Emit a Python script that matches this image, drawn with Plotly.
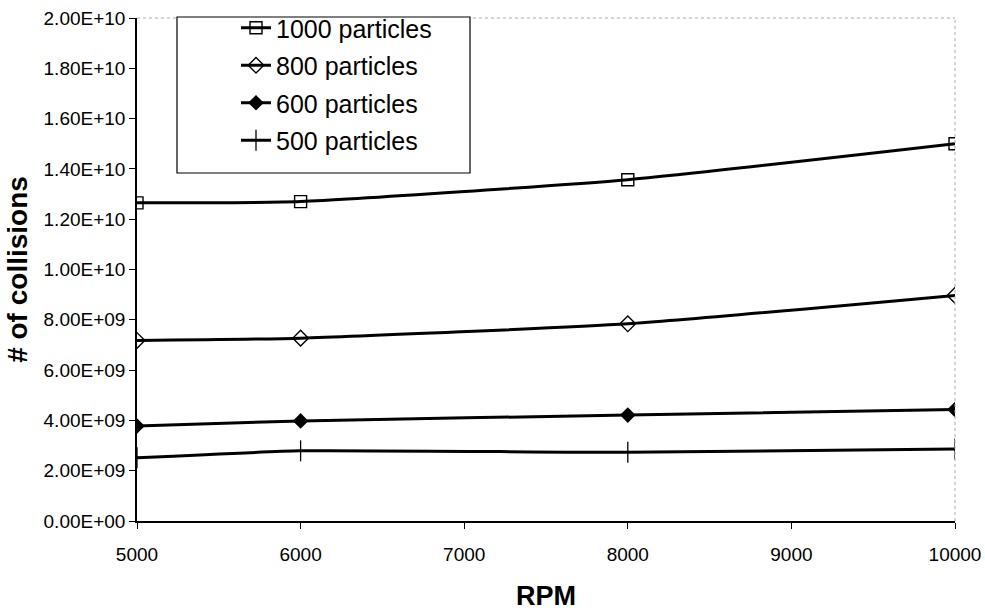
import plotly.graph_objects as go

rpm = [5000, 6000, 8000, 10000]
series_names = ["1000 particles", "800 particles", "600 particles", "500 particles"]
p1000 = [1.265e10, 1.27e10, 1.357e10, 1.50e10]
p800 = [7.18e9, 7.27e9, 7.84e9, 8.97e9]
p600 = [3.78e9, 3.98e9, 4.21e9, 4.43e9]
p500 = [2.51e9, 2.79e9, 2.73e9, 2.86e9]

y_tickvals = [0, 2e9, 4e9, 6e9, 8e9, 1e10, 1.2e10, 1.4e10, 1.6e10, 1.8e10, 2e10]
y_ticktext = ["0.00E+00", "2.00E+09", "4.00E+09", "6.00E+09", "8.00E+09", "1.00E+10",
              "1.20E+10", "1.40E+10", "1.60E+10", "1.80E+10", "2.00E+10"]
x_tickvals = [5000, 6000, 7000, 8000, 9000, 10000]
x_ticktext = ["5000", "6000", "7000", "8000", "9000", "10000"]

markers = [
    dict(symbol="square-open", size=12, color="black", line=dict(width=1.4, color="black")),
    dict(symbol="diamond-open", size=12, color="black", line=dict(width=1.4, color="black")),
    dict(symbol="diamond", size=12, color="black"),
    dict(symbol="line-ns-open", size=15, color="black", line=dict(width=1.3, color="black")),
]

fig = go.Figure()
for i, (name, vals, mk) in enumerate(zip(series_names, [p1000, p800, p600, p500], markers)):
    fig.add_trace(go.Scatter(
        x=rpm, y=vals, name=name, mode="lines+markers", legendgroup=f"g{i}",
        line=dict(color="black", width=3, shape="spline", smoothing=0.5),
        marker=mk,
    ))

# plot-area pixel geometry (for placing the legend box)
L, R, T, B = 137, 955, 18, 521
W, H = R - L, B - T
def px(xp):
    return (xp - L) / W
def py(yp):
    return (B - yp) / H

fig.add_shape(type="line", xref="paper", yref="paper", x0=0, x1=1, y0=1, y1=1,
              line=dict(color="#aaaaaa", width=1, dash="dot"))
fig.add_shape(type="line", xref="paper", yref="paper", x0=1, x1=1, y0=0, y1=1,
              line=dict(color="#aaaaaa", width=1, dash="dot"))
fig.add_shape(type="rect", xref="paper", yref="paper",
              x0=px(177), x1=px(470), y0=py(173), y1=py(17),
              line=dict(color="black", width=1.2), fillcolor="white", layer="above")

fig.update_layout(
    width=985, height=611,
    margin=dict(l=L, r=985 - R, t=T, b=611 - B, autoexpand=False),
    paper_bgcolor="white", plot_bgcolor="white",
    font=dict(family="Liberation Sans, Arial, sans-serif", color="black", size=19),
    showlegend=True,
    legend=dict(
        x=px(236), y=py(5), xanchor="left", yanchor="top",
        bgcolor="rgba(0,0,0,0)", borderwidth=0,
        font=dict(size=25, color="black"),
        tracegroupgap=2,
    ),
    xaxis=dict(
        range=[5000, 10000], tickvals=x_tickvals, ticktext=x_ticktext,
        ticks="outside", ticklen=6, ticklabelstandoff=9, automargin=False,
        tickcolor="black", showline=True, linecolor="black", linewidth=1.5,
        showgrid=False, zeroline=False,
        tickfont=dict(size=19),
        title=dict(text="<b>RPM</b>", font=dict(size=27), standoff=24),
    ),
    yaxis=dict(
        range=[0, 2e10], tickvals=y_tickvals, ticktext=y_ticktext, ticks="outside",
        ticklen=6, tickcolor="black", showline=True, linecolor="black", linewidth=1.5,
        showgrid=False, zeroline=False, automargin=False,
        tickfont=dict(size=19),
        title=dict(text="<b># of collisions</b>", font=dict(size=28), standoff=8),
    ),
)

fig.write_html("out.html")
